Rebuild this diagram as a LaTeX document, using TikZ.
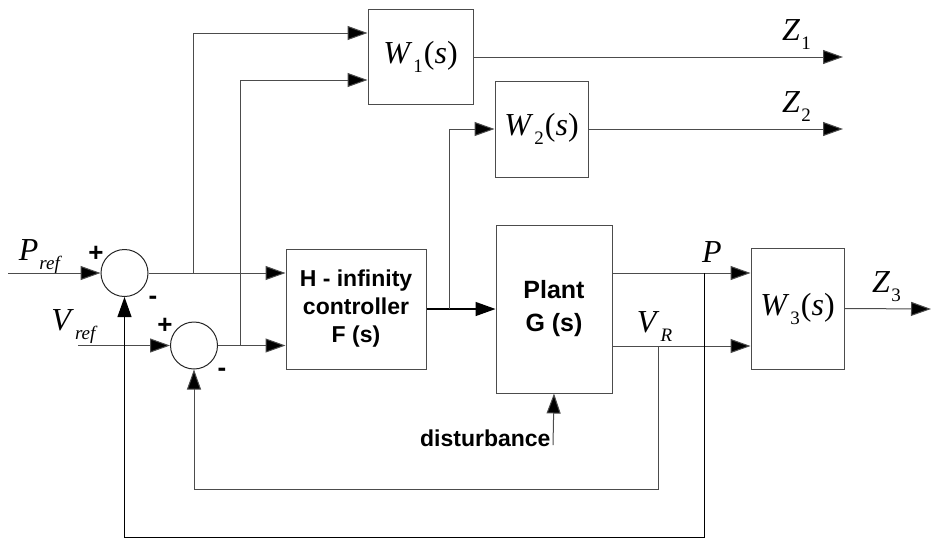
\documentclass[tikz,border=0pt]{standalone}
\usepackage{fontspec}
\setmainfont{Liberation Serif}
\newfontfamily\arialfont{Liberation Sans}
\usetikzlibrary{arrows.meta}
\newcommand\iv[1]{\textit{#1}}
\newcommand\lowsub[1]{\kern1pt\raisebox{-9pt}{\fontsize{19}{19}\selectfont #1}\kern1pt}
\begin{document}
\begin{tikzpicture}[x=1pt,y=-1pt,
  line width=1pt,
  conn/.style={draw=black!70},
  arr/.style={conn,-{Triangle[length=20pt,width=14pt,fill=black]}},
  blk/.style={draw=black!70,line width=1pt,minimum width=#1,inner sep=0pt},
  sumj/.style={draw=black!85,circle,minimum size=47pt,inner sep=0pt},
  mlab/.style={font=\fontsize{32}{34}\selectfont,inner sep=0pt},
  blab/.style={font=\arialfont\bfseries\fontsize{23}{28}\selectfont,inner sep=0pt,align=center},
  sgn/.style={font=\arialfont\bfseries\fontsize{26}{26}\selectfont,inner sep=0pt}]
\useasboundingbox (0,0) rectangle (933,539);
% blocks
\node[blk=105pt,minimum height=95pt,mlab] (W1) at (420.5,56.5) {\iv{W}\lowsub{1}(\iv{s})};
\node[blk=93pt,minimum height=96pt,mlab] (W2) at (541.5,129) {\iv{W}\lowsub{2}(\iv{s})};
\node[blk=140pt,minimum height=120pt,blab] (C) at (356,309) {H - infinity\\controller\\F (s)};
\node[blk=116pt,minimum height=168pt,blab,font=\arialfont\bfseries\fontsize{25}{33}\selectfont] (G) at (554,309) {Plant\\G (s)};
\node[blk=93pt,minimum height=121pt,mlab] (W3) at (797.5,308.5) {\iv{W}\lowsub{3}(\iv{s})};
\node[sumj] (S1) at (124.5,273) {};
\node[sumj] (S2) at (194,345.5) {};
% coordinates
\coordinate (pin) at (8,273);
\coordinate (vin) at (78,345.5);
\coordinate (z1) at (843,57);
\coordinate (z2) at (843,129);
\coordinate (z3) at (931,309);
\coordinate (d0) at (553,445);
\coordinate (b1) at (193,273);
\coordinate (b2) at (240,345.5);
\coordinate (b3) at (449,309);
\coordinate (bP) at (704,273);
\coordinate (bV) at (658,346);
% signals in
\draw[arr] (pin) -- (S1.west);
\draw[arr] (vin) -- (S2.west);
\draw[arr] (S1.east) -- (C.west |- S1.east);
\draw[arr] (S2.east) -- (C.west |- S2.east);
\draw[arr] (b1) |- (W1.west |- 0,33);
\draw[arr] (b2) |- (W1.west |- 0,80);
\draw[arr,draw=black,line width=1.4pt] (C.east) -- (G.west);
\draw[arr] (b3) |- (W2.west);
% outputs
\draw[arr] (W1.east |- z1) -- (z1);
\draw[arr] (W2.east) -- (z2);
\draw[arr] (G.east |- bP) -- (W3.west |- bP);
\draw[arr] (G.east |- bV) -- (W3.west |- bV);
\draw[arr] (W3.east) -- (z3);
% feedback
\draw[arr] (bV) -- (658,489) -| (S2.south);
\draw[arr,draw=black] (bP) -- (704,537) -| (S1.south);
\draw[arr] (d0) -- (G.south);
% labels
\node[mlab] (lz1) at (797,35) {\iv{Z}\lowsub{1}};
\node[mlab] (lz2) at (797,107) {\iv{Z}\lowsub{2}};
\node[mlab] (lz3) at (887,287) {\iv{Z}\lowsub{3}};
\node[mlab] (lp) at (712,252) {\iv{P}};
\node[mlab] (lv) at (655,327) {\iv{V}\lowsub{\iv{R}}};
\node[mlab] (lpr) at (41,257) {\iv{P}\lowsub{\iv{ref}}};
\node[mlab] (lvr) at (75,327) {\iv{V}\lowsub{\iv{ref}}};
\node[blab,anchor=east,font=\arialfont\bfseries\fontsize{23}{26}\selectfont] (ld) at (551,438) {disturbance};
\node[sgn] (p1) at (96,254) {+};
\node[sgn] (m1) at (153,300) {-};
\node[sgn] (p2) at (165,326) {+};
\node[sgn] (m2) at (222,372) {-};
\end{tikzpicture}
\end{document}
